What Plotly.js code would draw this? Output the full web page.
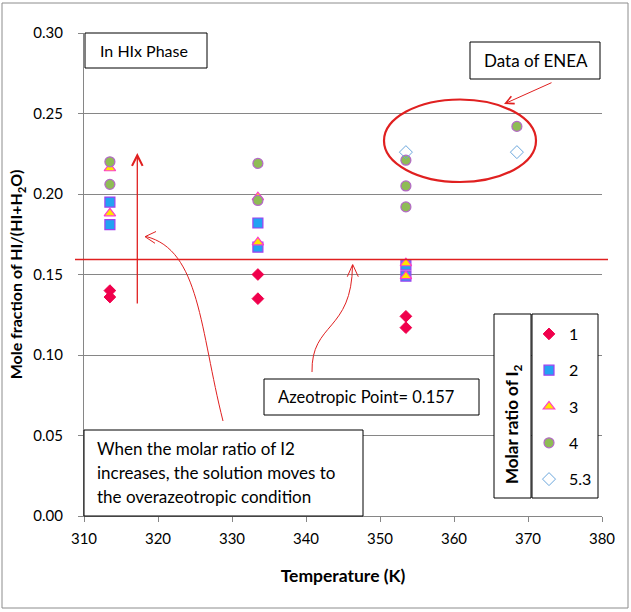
<!DOCTYPE html>
<html>
<head>
<meta charset="utf-8">
<script src="https://cdn.plot.ly/plotly-3.0.1.min.js"></script>
<style>
  html, body { margin: 0; padding: 0; background: #fff; }
  #plot { width: 631px; height: 612px; }
</style>
</head>
<body>
<div id="plot"></div>
<script>
// molar ratio of I2 -> series
const seriesNames = ["1", "2", "3", "4", "5.3"];

const tempR1 = [313.5, 313.5, 333.5, 333.5, 353.5, 353.5];
const fracR1 = [0.140, 0.136, 0.150, 0.135, 0.124, 0.117];

const tempR2 = [313.5, 313.5, 333.5, 333.5, 353.5, 353.5];
const fracR2 = [0.195, 0.181, 0.182, 0.167, 0.156, 0.149];

const tempR3 = [313.5, 313.5, 333.5, 333.5, 353.5, 353.5];
const fracR3 = [0.216, 0.188, 0.198, 0.170, 0.157, 0.149];

const tempR4 = [313.5, 313.5, 333.5, 333.5, 353.5, 353.5, 353.5, 368.5];
const fracR4 = [0.220, 0.206, 0.219, 0.196, 0.221, 0.205, 0.192, 0.242];

const tempR53 = [353.5, 368.5];
const fracR53 = [0.226, 0.226];

// plot area in pixels, used to place the drawn notes
const L = 84, R = 602, T = 33, B = 516;
const W = R - L, H = B - T;
const px = v => (v - L) / W;
const py = v => (B - v) / H;
const P = (x, y) => px(x) + "," + py(y);

const FONT = "Lato, 'Open Sans', sans-serif";
const RED = "#e02020";

const styles = [
  { symbol: "diamond", size: 9, color: "#f0004c", line: { color: "#f0004c", width: 1 } },
  { symbol: "square", size: 10, color: "#22a2f2", line: { color: "#a040f0", width: 1.2 } },
  { symbol: "triangle-up", size: 10, color: "#ffe400", line: { color: "#ff3cc8", width: 1.2 } },
  { symbol: "circle", size: 10, color: "#8fbc55", line: { color: "#b468c8", width: 1.2 } },
  { symbol: "diamond-open", size: 10, color: "#6aa6dc", line: { color: "#6aa6dc", width: 1 } }
];

const xs = [tempR1, tempR2, tempR3, tempR4, tempR53];
const ys = [fracR1, fracR2, fracR3, fracR4, fracR53];

const data = seriesNames.map((name, i) => ({
  type: "scatter",
  mode: "markers",
  name: name,
  legendgroup: "g" + i,
  x: xs[i],
  y: ys[i],
  marker: styles[i],
  hoverinfo: "x+y+name"
}));

function box(x0, y0, x1, y1) {
  return {
    type: "rect", xref: "paper", yref: "paper",
    x0: px(x0), x1: px(x1), y0: py(y1), y1: py(y0),
    fillcolor: "white", line: { color: "black", width: 1 }, layer: "above"
  };
}

function redPath(d, w) {
  return { type: "path", xref: "paper", yref: "paper", path: d, line: { color: RED, width: w || 1 } };
}

const shapes = [
  // outer frame of the figure
  { type: "rect", xref: "paper", yref: "paper", x0: px(2), x1: px(628), y0: py(608), y1: py(3),
    line: { color: "#8c8c8c", width: 1 }, fillcolor: "rgba(0,0,0,0)" },
  // azeotropic line
  { type: "line", xref: "paper", yref: "paper", x0: px(75), x1: px(608), y0: py(259.5), y1: py(259.5),
    line: { color: RED, width: 1.3 } },
  // ENEA ellipse
  { type: "circle", xref: "paper", yref: "paper", x0: px(384), x1: px(536), y0: py(182), y1: py(99.5),
    line: { color: RED, width: 2.2 } },
  // curved arrow to the vertical arrow
  redPath("M" + P(223, 421) + " C" + P(200, 330) + " " + P(200, 250) + " " + P(146, 236.5)),
  redPath("M" + P(156, 231.5) + " L" + P(145, 236.7) + " L" + P(155, 243.3)),
  // curved arrow to the azeotropic line
  redPath("M" + P(312, 372) + " C" + P(311, 322) + " " + P(352, 332) + " " + P(352.5, 265)),
  redPath("M" + P(347.3, 276.7) + " L" + P(352.7, 264.5) + " L" + P(358.3, 276.7)),
  // text boxes
  box(85, 33, 207, 68),
  box(470, 42, 600, 79),
  box(264, 379, 479, 415),
  box(84, 430, 363, 516),
  // legend boxes
  box(494, 314, 531, 498),
  box(532, 314, 598, 498)
];

function note(text, x, y, size, opts) {
  return Object.assign({
    xref: "paper", yref: "paper", x: px(x), y: py(y),
    xanchor: "left", yanchor: "middle", align: "left",
    text: text, showarrow: false,
    font: { family: FONT, size: size, color: "black" }
  }, opts || {});
}

const annotations = [
  note("In HIx Phase", 98, 51, 16),
  note("Data of ENEA", 482, 60, 17),
  note("Azeotropic Point= 0.157", 276, 397, 16.5),
  note("When the molar ratio of I2", 95, 448, 17),
  note("increases, the solution moves to", 95, 472.5, 17),
  note("the overazeotropic condition", 95, 496, 17),
  note("<b>Molar ratio of I<sub>2</sub></b>", 513, 424, 17,
    { xanchor: "center", yanchor: "middle", textangle: -90 }),
  // vertical red arrow
  { xref: "paper", yref: "paper", x: px(137.3), y: py(153), ax: 0, ay: 152, text: "",
    showarrow: true, arrowhead: 5, arrowsize: 1.6, arrowwidth: 1.3, arrowcolor: RED },
  // arrow from ENEA box to the ellipse
  { xref: "paper", yref: "paper", x: px(504), y: py(104), ax: 49, ay: -22, text: "",
    showarrow: true, arrowhead: 5, arrowsize: 1.6, arrowwidth: 1, arrowcolor: RED }
];

const layout = {
  width: 631,
  height: 612,
  margin: { l: L, r: 631 - R, t: T, b: 612 - B },
  paper_bgcolor: "white",
  plot_bgcolor: "white",
  font: { family: FONT, size: 15, color: "black" },
  showlegend: true,
  legend: {
    x: px(529), y: py(317), xanchor: "left", yanchor: "top",
    bgcolor: "rgba(0,0,0,0)", borderwidth: 0,
    font: { family: FONT, size: 16, color: "black" },
    tracegroupgap: 12.5
  },
  xaxis: {
    range: [310, 380], dtick: 10, tick0: 310,
    showgrid: false, zeroline: false,
    showline: true, linecolor: "#868686", linewidth: 1,
    ticks: "outside", ticklen: 5, tickcolor: "#868686",
    tickfont: { family: FONT, size: 15 },
    ticklabelstandoff: 4,
    title: { text: "<b>Temperature (K)</b>", font: { family: FONT, size: 17.5 }, standoff: 23 }
  },
  yaxis: {
    range: [0, 0.3], dtick: 0.05, tick0: 0, tickformat: ".2f",
    showgrid: true, gridcolor: "#868686", gridwidth: 1, zeroline: false,
    showline: true, linecolor: "#868686", linewidth: 1,
    ticks: "outside", ticklen: 5, tickcolor: "#868686",
    tickfont: { family: FONT, size: 15 },
    ticklabelstandoff: 12,
    title: { text: "<b>Mole fraction of HI/(HI+H<sub>2</sub>O)</b>", font: { family: FONT, size: 16 }, standoff: 6 }
  },
  shapes: shapes,
  annotations: annotations
};

Plotly.newPlot("plot", data, layout, { displayModeBar: false, staticPlot: true });
</script>
</body>
</html>
